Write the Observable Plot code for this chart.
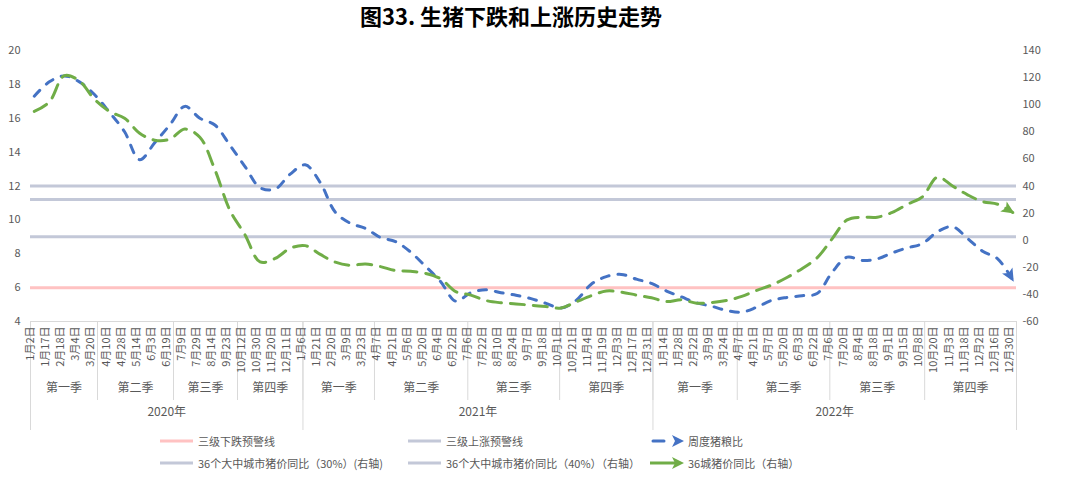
<!DOCTYPE html>
<html><head><meta charset="utf-8">
<script src="https://cdn.jsdelivr.net/npm/d3@7"></script>
<script src="https://cdn.jsdelivr.net/npm/@observablehq/plot@0.6"></script>
<style>
body{margin:0;background:#fff;font-family:"Noto Sans CJK SC",sans-serif;}
#wrap{position:relative;width:1068px;height:477px;overflow:hidden;background:#fff;}
#title{position:absolute;left:0;top:0;width:1022px;height:30px;line-height:30px;text-align:center;font-size:22px;font-weight:bold;color:#000;}
#chart{position:absolute;left:0;top:32px;}
.lg{position:absolute;font-size:11px;color:#595959;white-space:nowrap;line-height:16px;display:flex;align-items:center;}
.lg svg{margin-right:4px;}
</style></head><body>
<div id="wrap"><div id="title">图33. 生猪下跌和上涨历史走势</div><div id="chart"></div><div id="legend"></div></div>
<script>
// ---- data ----
const dateLabels = [
  "1月2日","1月17日","2月18日","3月4日","3月20日","4月10日","4月28日","5月14日","6月3日","6月19日",
  "7月9日","7月29日","8月14日","9月23日","10月12日","10月30日","11月20日","12月11日",
  "1月6日","1月21日","2月20日","3月9日","3月23日","4月7日","4月21日","5月6日","5月20日","6月4日","6月22日",
  "7月6日","7月22日","8月10日","8月24日","9月7日","9月18日","10月1日","10月21日","11月4日","11月19日","12月3日","12月17日","12月31日",
  "1月14日","1月28日","2月22日","3月9日","3月24日","4月7日","4月21日","5月7日","5月20日","6月3日","6月22日",
  "7月6日","7月20日","8月4日","8月18日","9月1日","9月15日","10月8日","10月20日","11月3日","11月18日","12月2日","12月16日","12月30日"
];
const quarterLabels = ["第一季","第二季","第三季","第四季","第一季","第二季","第三季","第四季","第一季","第二季","第三季","第四季"];
// quarter boundaries, in units of the labelled categories
const quarterEdges = [-0.25, 4.2, 9.25, 13.5, 17.85, 22.6, 28.8, 34.9, 41.1, 46.7, 52.85, 59.15, 65.25];
const yearLabels = ["2020年","2021年","2022年"];
// 周度猪粮比 (left axis)
const pigGrainRatio = [17.3, 18.15, 18.5, 18.15, 17.4, 16.35, 15.2, 13.55, 14.55, 15.6,
  16.7, 16.0, 15.6, 14.4, 13.15, 11.9, 11.82, 12.7, 13.25, 12.2,
  10.45, 9.8, 9.5, 8.96, 8.72, 8.1, 7.25, 6.35, 5.2, 5.7,
  5.87, 5.7, 5.55, 5.35, 5.07, 4.8, 5.25, 6.2, 6.65, 6.78,
  6.5, 6.25, 5.8, 5.45, 5.1, 4.9, 4.65, 4.55, 4.85, 5.25,
  5.42, 5.52, 5.65, 6.9, 7.8, 7.6, 7.7, 8.05, 8.35, 8.6,
  9.3, 9.6, 8.9, 8.15, 7.7, 6.45];
// 36城猪价同比 (right axis, %)
const city36YoY = [95, 102, 121.5, 117.5, 104, 95, 90, 79, 73.8, 74.5,
  82, 76, 52, 22, 4, -16, -13.5, -6, -4, -10.5,
  -16.2, -18.5, -17.5, -19.5, -22.4, -23, -24.5, -28.5, -38, -40.5,
  -44.5, -46.2, -47, -48, -49, -50, -45.5, -41, -37.5, -38.3,
  -40.5, -42.5, -45.3, -44, -46.5, -46, -44.5, -41.5, -37, -33,
  -27.5, -21, -13, 1, 15, 17, 17, 20.5, 26.5, 32,
  46.5, 40, 33.5, 28.5, 26.5, 20.5];
const fallWarning = 6;   // 三级下跌预警线 (left)
const riseWarning = 9;   // 三级上涨预警线 (left)
const yoy30 = 30, yoy40 = 40; // right axis
const leftTicks = [4, 6, 8, 10, 12, 14, 16, 18, 20];
const rightTicks = [-60, -40, -20, 0, 20, 40, 60, 80, 100, 120, 140];

// ---- scales helpers ----
const leftDomain = [4, 20], rightDomain = [-60, 140];
const toLeft = r => leftDomain[0] + (r - rightDomain[0]) * (leftDomain[1] - leftDomain[0]) / (rightDomain[1] - rightDomain[0]);
const idx = d3.range(dateLabels.length);
const quarterMid = quarterLabels.map((q, i) => (quarterEdges[i] + quarterEdges[i + 1]) / 2);
const yearEdges = [quarterEdges[0], quarterEdges[4], quarterEdges[8], quarterEdges[12]];
const yearMid = yearLabels.map((y, i) => (yearEdges[i] + yearEdges[i + 1]) / 2);

const axisColor = "#595959", divColor = "#d9d9d9";
const blue = "#4472c4", green = "#70ad47", gray = "#c3c8d8", pink = "#ffc2c2";

const plot = Plot.plot({
  width: 1068, height: 398,
  marginTop: 18, marginBottom: 109, marginLeft: 30, marginRight: 52,
  x: {domain: [-0.25, dateLabels.length - 0.75], axis: null},
  y: {domain: leftDomain, axis: null},
  style: {fontFamily: "'Noto Sans CJK SC', sans-serif", background: "white", overflow: "visible"},
  marks: [
    Plot.ruleY([leftDomain[0]], {stroke: divColor, strokeWidth: 1}),
    Plot.ruleX(quarterEdges, {stroke: divColor, strokeWidth: 1, insetTop: 271, insetBottom: -79}),
    Plot.ruleX(yearEdges, {stroke: divColor, strokeWidth: 1, insetTop: 271, insetBottom: -109}),
    Plot.text(dateLabels, {x: (d, i) => i, text: d => d, frameAnchor: "bottom", rotate: -90, textAnchor: "end", dy: 5, fontSize: 11, fill: axisColor}),
    Plot.text(quarterLabels, {x: (d, i) => quarterMid[i], text: d => d, frameAnchor: "bottom", dy: 70, fontSize: 12, fill: axisColor}),
    Plot.text(yearLabels, {x: (d, i) => yearMid[i], text: d => d, frameAnchor: "bottom", dy: 94, fontSize: 12, fill: axisColor}),
    Plot.text(leftTicks, {y: d => d, text: d => String(d), frameAnchor: "left", textAnchor: "end", dx: -10, fontSize: 11, fill: axisColor}),
    Plot.text(rightTicks, {y: d => toLeft(d), text: d => String(d), frameAnchor: "right", textAnchor: "start", dx: 6, fontSize: 11, fill: axisColor}),
    Plot.ruleY([fallWarning], {stroke: pink, strokeWidth: 3}),
    Plot.ruleY([riseWarning], {stroke: gray, strokeWidth: 3}),
    Plot.ruleY([yoy30, yoy40].map(toLeft), {stroke: gray, strokeWidth: 3}),
    Plot.line(idx, {x: i => i, y: i => pigGrainRatio[i], stroke: blue, strokeWidth: 3, strokeDasharray: "8,9", curve: "catmull-rom", markerEnd: "arrow"}),
    Plot.line(idx, {x: i => i, y: i => toLeft(city36YoY[i]), stroke: green, strokeWidth: 3, strokeDasharray: "14,9", curve: "catmull-rom", markerEnd: "arrow"})
  ]
});

// filled stealth arrowheads
plot.querySelectorAll("marker").forEach(m => {
  const p = m.querySelector("path");
  const c = m.getAttribute("stroke") || (p && p.getAttribute("stroke")) || blue;
  m.setAttribute("viewBox", "-14 -8 16 16");
  m.setAttribute("markerUnits", "userSpaceOnUse");
  m.setAttribute("markerWidth", 16);
  m.setAttribute("markerHeight", 16);
  m.setAttribute("refX", 0);
  m.setAttribute("refY", 0);
  m.setAttribute("fill", c);
  m.setAttribute("stroke", "none");
  m.setAttribute("stroke-dasharray", "none");
  m.style.overflow = "visible";
  if (p) { p.setAttribute("d", "M2,0L-11,-6L-8,0L-11,6Z"); p.setAttribute("fill", c); p.setAttribute("stroke", "none"); }
});
document.getElementById("chart").appendChild(plot);

// ---- legend ----
const legendItems = [
  {label: "三级下跌预警线", kind: "line", color: pink},
  {label: "三级上涨预警线", kind: "line", color: gray},
  {label: "周度猪粮比", kind: "dash", color: blue},
  {label: "36个大中城市猪价同比（30%）(右轴)", kind: "line", color: gray},
  {label: "36个大中城市猪价同比（40%）（右轴）", kind: "line", color: gray},
  {label: "36城猪价同比（右轴）", kind: "arrow", color: green}
];
const legendCols = [160, 408, 650], legendRows = [433, 455];
const lg = document.getElementById("wrap");
legendItems.forEach((it, i) => {
  const div = document.createElement("div");
  div.className = "lg";
  div.style.left = legendCols[i % 3] + "px";
  div.style.top = legendRows[Math.floor(i / 3)] + "px";
  const s = d3.create("svg").attr("width", 34).attr("height", 14);
  if (it.kind === "line") {
    s.append("line").attr("x1", 0).attr("x2", 33).attr("y1", 7).attr("y2", 7).attr("stroke", it.color).attr("stroke-width", 3);
  } else if (it.kind === "dash") {
    s.append("line").attr("x1", 3).attr("x2", 14).attr("y1", 7).attr("y2", 7).attr("stroke", it.color).attr("stroke-width", 3).attr("stroke-linecap", "round");
    s.append("path").attr("d", "M34,7L22,1L25,7L22,13Z").attr("fill", it.color);
  } else {
    s.append("line").attr("x1", 0).attr("x2", 27).attr("y1", 7).attr("y2", 7).attr("stroke", it.color).attr("stroke-width", 3);
    s.append("path").attr("d", "M34,7L22,1L25,7L22,13Z").attr("fill", it.color);
  }
  div.appendChild(s.node());
  const t = document.createElement("span");
  t.textContent = it.label;
  div.appendChild(t);
  lg.appendChild(div);
});
</script>
</body></html>
